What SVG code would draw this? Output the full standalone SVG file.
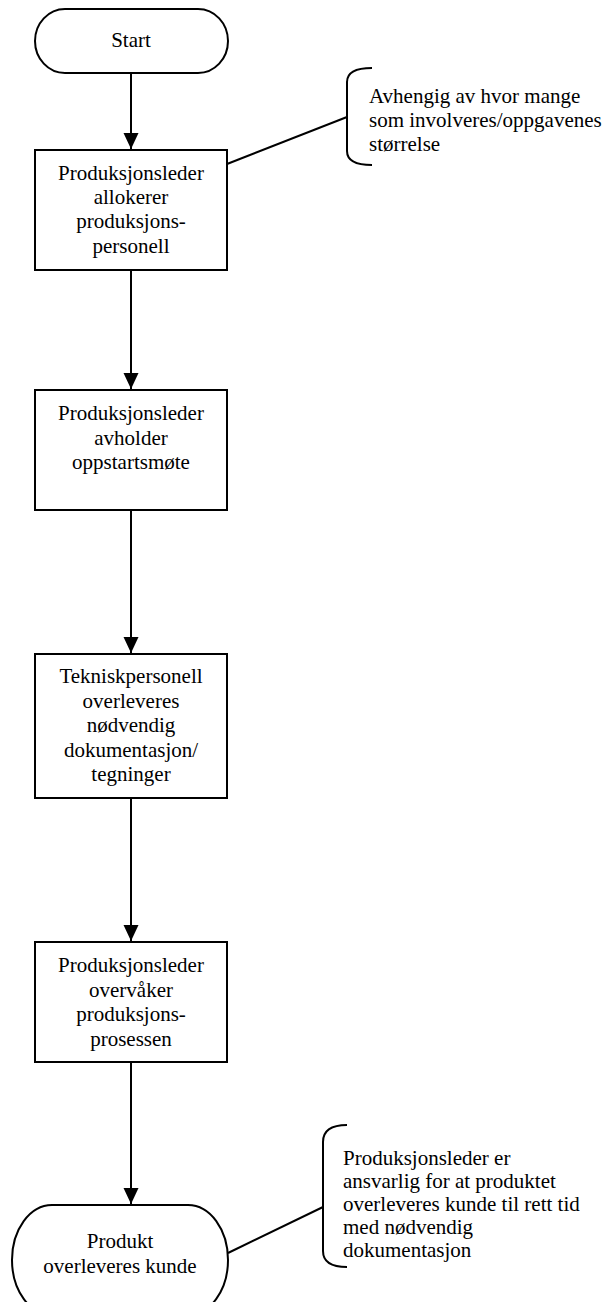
<svg xmlns="http://www.w3.org/2000/svg" width="610" height="1302" viewBox="0 0 610 1302">
  <style>
    .shape { fill: #ffffff; stroke: #000000; stroke-width: 2; }
    .line { fill: none; stroke: #000000; stroke-width: 2; }
    .brace { fill: none; stroke: #000000; stroke-width: 2; }
    text { font-family: "Liberation Serif", "Times New Roman", serif; font-size: 21px; fill: #000000; }
    .c { text-anchor: middle; }
  </style>
  <defs>
    <marker id="arrow" viewBox="0 0 16 16" refX="16" refY="8" markerWidth="16" markerHeight="16" markerUnits="userSpaceOnUse" orient="auto">
      <path d="M0,0.5 L16,8 L0,15.5 Z" fill="#000000"/>
    </marker>
  </defs>

  <!-- connectors -->
  <g id="connectors">
    <line class="line" x1="131" y1="74" x2="131" y2="149" marker-end="url(#arrow)"/>
    <line class="line" x1="131" y1="271" x2="131" y2="389" marker-end="url(#arrow)"/>
    <line class="line" x1="131" y1="511" x2="131" y2="653" marker-end="url(#arrow)"/>
    <line class="line" x1="131" y1="799" x2="131" y2="941" marker-end="url(#arrow)"/>
    <line class="line" x1="131" y1="1063" x2="131" y2="1204" marker-end="url(#arrow)"/>
    <line class="line" x1="227" y1="164" x2="347" y2="117"/>
    <line class="line" x1="228" y1="1253" x2="323" y2="1207"/>
  </g>

  <g id="start">
    <rect class="shape" x="35" y="9" width="193" height="64" rx="30" ry="32"/>
    <text class="c" x="131" y="47">Start</text>
  </g>

  <g id="allocate">
    <rect class="shape" x="35" y="150" width="192" height="120"/>
    <text class="c" x="131" y="180">Produksjonsleder</text>
    <text class="c" x="131" y="204">allokerer</text>
    <text class="c" x="131" y="228">produksjons-</text>
    <text class="c" x="131" y="253">personell</text>
  </g>

  <g id="note-allocate">
    <path class="brace" d="M372,68 Q347,68 347,82 L347,151 Q347,165 372,165"/>
    <text x="369" y="103">Avhengig av hvor mange</text>
    <text x="369" y="127">som involveres/oppgavenes</text>
    <text x="369" y="151">størrelse</text>
  </g>

  <g id="kickoff">
    <rect class="shape" x="35" y="390" width="192" height="120"/>
    <text class="c" x="131" y="420">Produksjonsleder</text>
    <text class="c" x="131" y="444.5">avholder</text>
    <text class="c" x="131" y="469">oppstartsmøte</text>
  </g>

  <g id="handover">
    <rect class="shape" x="35" y="654" width="192" height="144"/>
    <text class="c" x="131" y="683">Tekniskpersonell</text>
    <text class="c" x="131" y="707.5">overleveres</text>
    <text class="c" x="131" y="732">nødvendig</text>
    <text class="c" x="131" y="756.5">dokumentasjon/</text>
    <text class="c" x="131" y="781">tegninger</text>
  </g>

  <g id="monitor">
    <rect class="shape" x="35" y="942" width="192" height="120"/>
    <text class="c" x="131" y="972">Produksjonsleder</text>
    <text class="c" x="131" y="996.5">overvåker</text>
    <text class="c" x="131" y="1021">produksjons-</text>
    <text class="c" x="131" y="1045.5">prosessen</text>
  </g>

  <g id="delivery">
    <rect class="shape" x="12" y="1205" width="216" height="110" rx="40" ry="55"/>
    <text class="c" x="120" y="1248">Produkt</text>
    <text class="c" x="120" y="1273">overleveres kunde</text>
  </g>

  <g id="note-delivery">
    <path class="brace" d="M347,1125 Q323,1125 323,1142 L323,1251 Q323,1267 347,1267"/>
    <text x="343" y="1165">Produksjonsleder er</text>
    <text x="343" y="1188">ansvarlig for at produktet</text>
    <text x="343" y="1211">overleveres kunde til rett tid</text>
    <text x="343" y="1234">med nødvendig</text>
    <text x="343" y="1257">dokumentasjon</text>
  </g>
</svg>
